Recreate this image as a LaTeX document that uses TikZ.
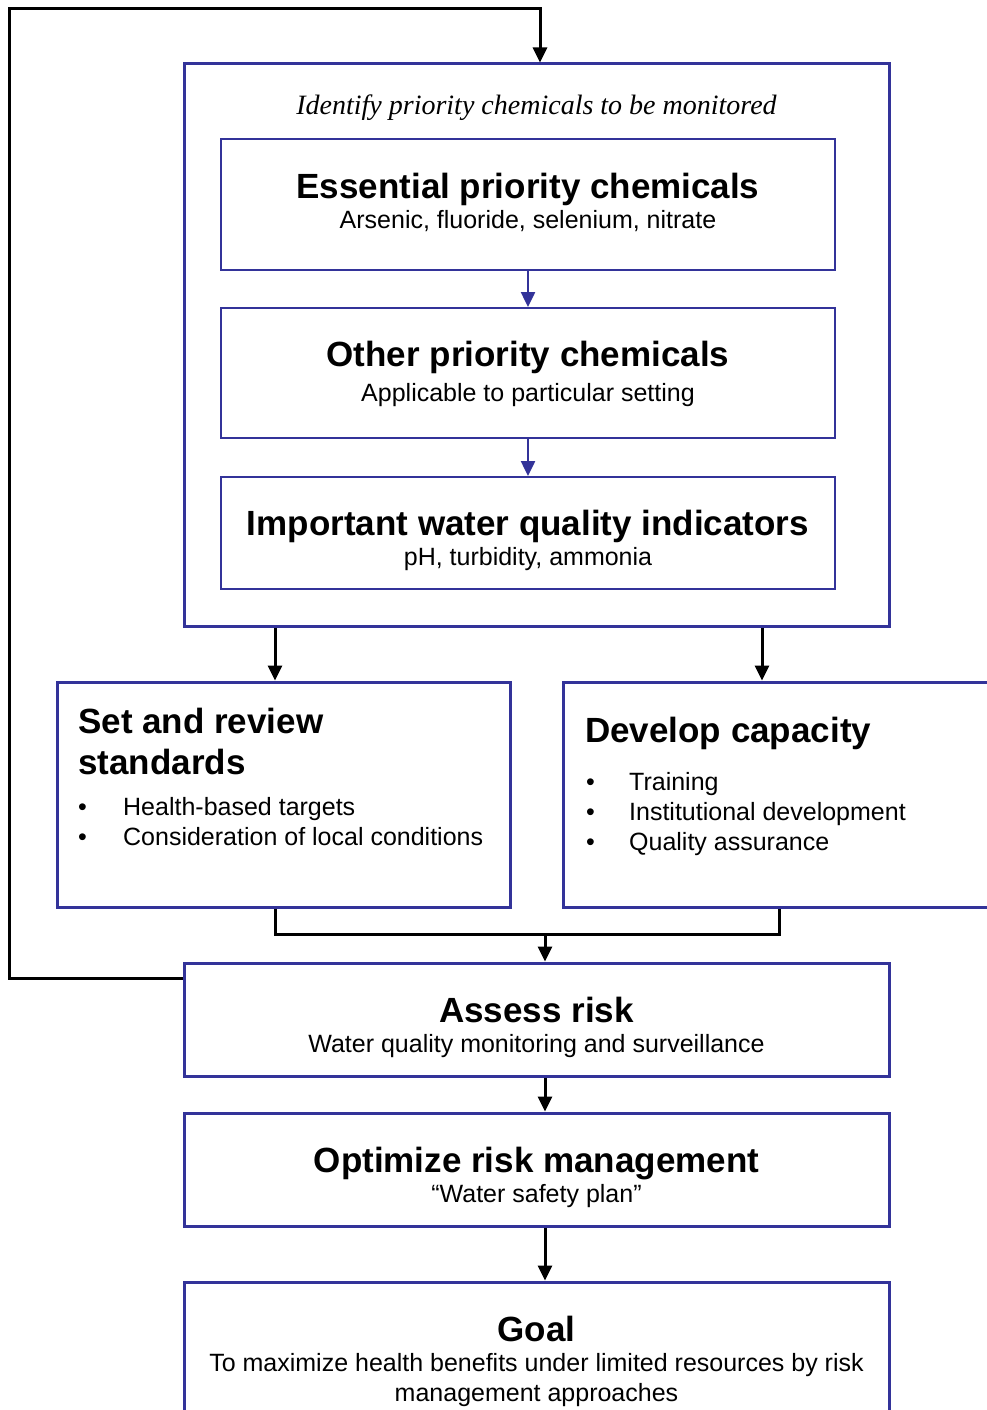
\documentclass[tikz,border=0pt]{standalone}
\usepackage{fontspec}
\setmainfont{Liberation Sans}
\newfontfamily\capfont{Liberation Serif}
\usetikzlibrary{arrows.meta}
\definecolor{boxblue}{RGB}{51,51,153}
\newcommand{\hdfont}{\fontsize{35}{41}\selectfont\bfseries}
\newcommand{\txfont}{\fontsize{25}{30}\selectfont}

\begin{document}
\begin{tikzpicture}[x=1pt,y=-1pt,>={Triangle[length=15pt,width=14pt]},
	outerbox/.style={draw=boxblue,line width=3pt,inner sep=0pt,minimum width=705pt},
	innerbox/.style={draw=boxblue,line width=2pt,inner sep=0pt,minimum width=614pt},
	txt/.style={inner sep=0pt,align=center,font=\txfont},
	link/.style={line width=3pt,->},
	bluelink/.style={draw=boxblue,line width=2.5pt,->}]
	\useasboundingbox (0,0) rectangle (987,1410);
	% monitoring block
	\node[outerbox,minimum height=562pt] (ident) at (536.5,345) {};
	\node[inner sep=0pt,font=\capfont\fontsize{28}{32}\selectfont\itshape,anchor=base] (identtxt) at (536.5,115) {Identify priority chemicals to be monitored};
	\node[innerbox,minimum height=131pt] (ess) at (528,204.5) {};
	\node[txt,anchor=north] (esstxt) at ([yshift=-34.5pt]ess.north) {{\hdfont Essential priority chemicals}\\Arsenic, fluoride, selenium, nitrate};
	\node[innerbox,minimum height=130pt] (oth) at (528,373) {};
	\node[txt,anchor=north] (othtxt) at ([yshift=-34pt]oth.north) {{\hdfont Other priority chemicals}\\[5pt]Applicable to particular setting};
	\node[innerbox,minimum height=112pt] (ind) at (528,533) {};
	\node[txt,anchor=north] (indtxt) at ([yshift=-34pt]ind.north) {{\hdfont Important water quality indicators}\\pH, turbidity, ammonia};
	\draw[bluelink] (ess) -- (oth);
	\draw[bluelink] (oth) -- (ind);
	% standards and capacity
	\node[outerbox,minimum width=453pt,minimum height=225pt] (std) at (283.5,794.5) {};
	\node[anchor=base west,inner sep=0pt,font=\hdfont] (stdtitle) at (78,733.5) {\begin{tabular}[t]{@{}l@{}}Set and review\\standards\end{tabular}};
	\node[anchor=base west,inner sep=0pt,font=\txfont] (stdlist) at (78,815) {\begin{tabular}[t]{@{}p{45pt}@{}l@{}}\textbullet & Health-based targets\\\textbullet & Consideration of local conditions\end{tabular}};
	\node[outerbox,minimum width=440pt,minimum height=225pt] (cap) at (783,794.5) {};
	\node[anchor=base west,inner sep=0pt,font=\hdfont] (captitle) at (585,742.5) {Develop capacity};
	\node[anchor=base west,inner sep=0pt,font=\txfont] (caplist) at (586,790) {\begin{tabular}[t]{@{}p{43pt}@{}l@{}}\textbullet & Training\\\textbullet & Institutional development\\\textbullet & Quality assurance\end{tabular}};
	% lower chain
	\node[outerbox,minimum height=113pt] (assess) at (536.5,1019.5) {};
	\node[txt,anchor=north] (assesstxt) at ([yshift=-35pt]assess.north) {{\hdfont Assess risk}\\Water quality monitoring and surveillance};
	\node[outerbox,minimum height=113pt] (opt) at (536.5,1169.5) {};
	\node[txt,anchor=north] (opttxt) at ([yshift=-35pt]opt.north) {{\hdfont Optimize risk management}\\``Water safety plan''};
	\node[outerbox,minimum height=162pt] (goal) at (536.5,1363) {};
	\node[txt,anchor=north] (goaltxt) at ([yshift=-35pt]goal.north) {{\hdfont Goal}\\To maximize health benefits under limited resources by risk\\management approaches};
	% connectors
	\coordinate (stdin) at ([xshift=-8.5pt]std.north);
	\coordinate (capin) at ([xshift=-21pt]cap.north);
	\draw[link] (stdin |- ident.south) -- (stdin);
	\draw[link] (capin |- ident.south) -- (capin);
	\coordinate (stdout) at ([xshift=-8.5pt]std.south);
	\coordinate (capout) at ([xshift=-4pt]cap.south);
	\coordinate (mrg) at (545,934);
	\draw[line width=3pt] (stdout) |- (mrg) -| (capout);
	\draw[link] (mrg) -- (mrg |- assess.north);
	\coordinate (asout) at ([xshift=8.5pt]assess.south);
	\coordinate (opout) at ([xshift=8.5pt]opt.south);
	\draw[link] (asout) -- (asout |- opt.north);
	\draw[link] (opout) -- (opout |- goal.north);
	% feedback loop
	\coordinate (fb) at ([yshift=-17pt]assess.north west);
	\coordinate (corner) at (9,9);
	\coordinate (idin) at ([xshift=3.5pt]ident.north);
	\draw[link] (fb) -| (corner) -| (idin);
\end{tikzpicture}
\end{document}
